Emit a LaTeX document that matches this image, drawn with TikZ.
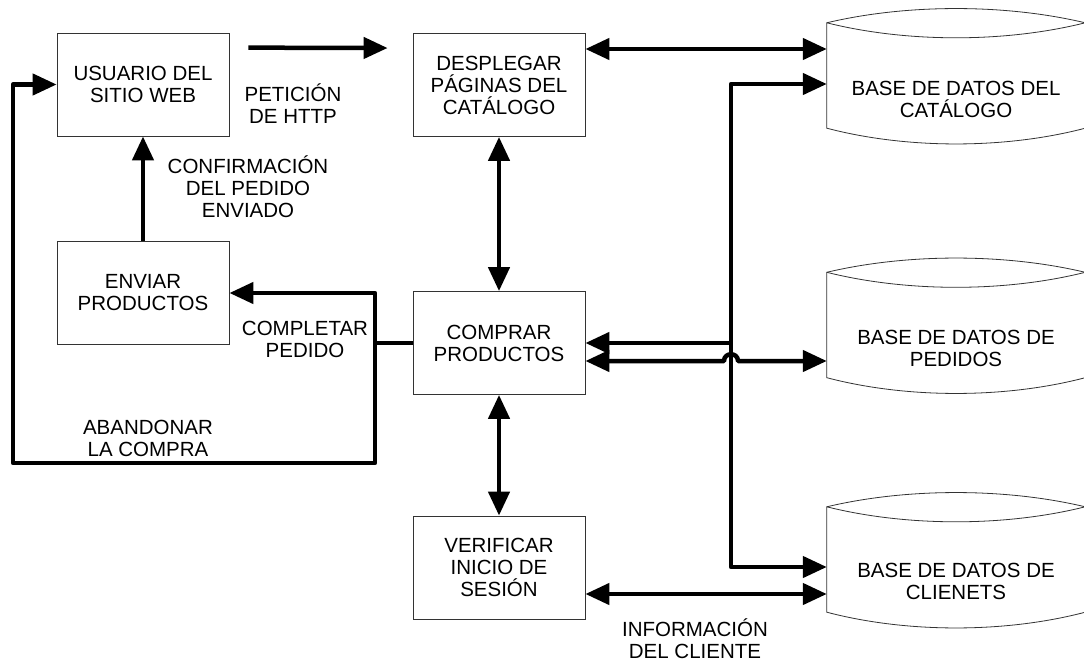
\documentclass[tikz,border=0pt]{standalone}
\usepackage{fontspec}
\setmainfont{Liberation Sans}
\usetikzlibrary{arrows.meta,calc}
\begin{document}
\begin{tikzpicture}[x=1pt,y=-1pt,
  every node/.style={font=\fontsize{20.5}{22}\selectfont, align=center, text=black},
  procbox/.style={draw=black!80, line width=0.8pt, fill=white,
    minimum width=172pt, minimum height=103pt, inner sep=0pt},
  drumshape/.style={minimum width=258pt, minimum height=105pt, inner sep=0pt},
  drumline/.style={draw=black!80, line width=0.8pt},
  flow/.style={line width=4.5pt, line join=round},
  lbl/.style={inner sep=0pt},
  >={Triangle[length=24pt 0 0, width=21pt 0 0]}
]
% canvas
\fill[white] (0,0) rectangle (1084,661);
\useasboundingbox (0,0) rectangle (1084,661);

% process boxes
\node[procbox] (usr)  at (143,84.5)  {USUARIO DEL\\SITIO WEB};
\node[procbox] (desp) at (499,85)    {DESPLEGAR\\PÁGINAS DEL\\CATÁLOGO};
\node[procbox] (env)  at (143,293)   {ENVIAR\\PRODUCTOS};
\node[procbox] (comp) at (499,343)   {COMPRAR\\PRODUCTOS};
\node[procbox] (ver)  at (499,567.5) {VERIFICAR\\INICIO DE\\SESIÓN};

% data stores
\node[drumshape] (db1) at (956,75.5)  {};
\node[drumshape] (db2) at (956,325)   {};
\node[drumshape] (db3) at (956,559.5) {};
\foreach \d in {db1,db2,db3} {
  \draw[drumline] (\d.north west) .. controls +(80,-19) and +(-80,-19) .. (\d.north east)
    -- (\d.south east) .. controls +(-80,21) and +(80,21) .. (\d.south west) -- cycle;
  \draw[drumline] (\d.north west) .. controls +(80,20) and +(-80,20) .. (\d.north east);
}
\node (db1t) at (956,99.5) {BASE DE DATOS DEL\\CATÁLOGO};
\node (db2t) at (956,348)  {BASE DE DATOS DE\\PEDIDOS};
\node (db3t) at (956,581)  {BASE DE DATOS DE\\CLIENETS};

% routing points
\coordinate (split)  at (375,343);
\coordinate (loopSE) at (375,463);
\coordinate (loopSW) at (13,463);
\coordinate (busN)   at (731,84);
\coordinate (busJ)   at (731,343);
\coordinate (busS)   at (731,567);
\coordinate (catY)   at (0,49);
\coordinate (ordY)   at (0,361);
\coordinate (infY)   at (0,594);
\coordinate (hopL)   at (724,361);
\coordinate (hopR)   at (738,361);

% connectors
\draw[flow,->,shorten <=19pt,shorten >=25pt]
  ($(usr.north east)+(0,15)$) -- ($(desp.north west)+(0,15)$);
\draw[flow,->] (env.north) -- (usr.south);
\draw[flow,<->] (desp.south) -- (comp.north);
\draw[flow,<->] (comp.south) -- (ver.north);
\draw[flow,<->] (desp.east |- catY) -- (db1.west |- catY);
\draw[flow,<->] (db1.west |- busN) -- (busN) -- (busS) -- (db3.west |- busS);
\draw[flow,->] (busJ) -- (comp.east |- busJ);
\draw[flow,<->] (comp.east |- ordY) -- (hopL)
  .. controls +(0,-9) and +(0,-9) .. (hopR) -- (db2.west |- ordY);
\draw[flow,<->] (ver.east |- infY) -- (db3.west |- infY);
\draw[flow,->] (comp.west) -- (split) |- (env.east);
\draw[flow,->] (split) -- (loopSE) -- (loopSW) |- (usr.west);

% connector labels
\node[lbl] (lpet)  at (293,104)   {PETICIÓN\\DE HTTP};
\node[lbl] (lconf) at (248,187)   {CONFIRMACIÓN\\DEL PEDIDO\\ENVIADO};
\node[lbl] (lcomp) at (305,339.5) {COMPLETAR\\PEDIDO};
\node[lbl] (laban) at (148,438.5) {ABANDONAR\\LA COMPRA};
\node[lbl] (linfo) at (695,639)   {INFORMACIÓN\\DEL CLIENTE};
\end{tikzpicture}
\end{document}
